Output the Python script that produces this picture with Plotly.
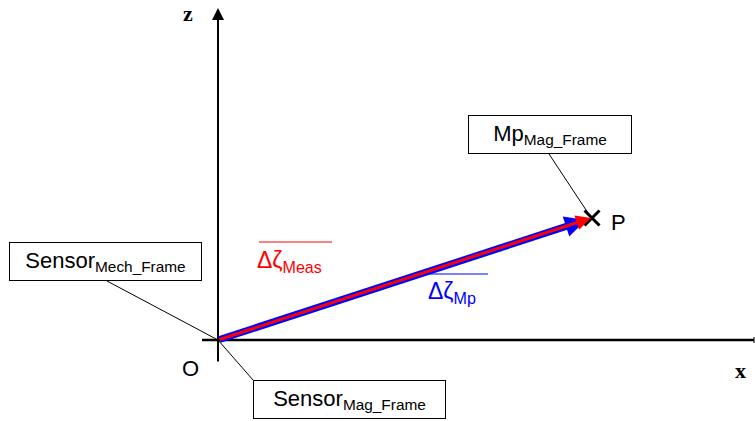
import plotly.graph_objects as go

# Diagram points (x, z) in diagram units, origin O at (0, 0)
origin = [0, 0]
point_p = [374, 122]
blue_tip = [368, 120]
red_tip = [373, 122]
x_axis_span = [-16, 536]
z_axis_span = [-23, 332]

# Text labels
axis_labels = {"z": [-30, 327], "x": [522, -30]}
point_labels = {"O": [-28, -28], "P": [400, 118]}
box_texts = ["Sensor<sub>Mech_Frame</sub>", "Sensor<sub>Mag_Frame</sub>", "Mp<sub>Mag_Frame</sub>"]
box_centers = [[-112.5, 78.5], [131.5, -59.5], [332, 205.5]]
box_sizes = [[193, 39], [193, 39], [164, 39]]
leader_starts = [[-111, 59], [35, -40], [331, 186]]
leader_ends = [[0, 0], [0, 0], [372, 124]]
vec_texts = ["Δζ<sub>Meas</sub>", "Δζ<sub>Mp</sub>"]
vec_text_pos = [[37, 79], [208, 48]]
vec_overlines = [[41, 114, 98], [209, 270, 66]]
vec_colors = ["#ff0000", "#0000ff"]

fig = go.Figure()

# leader lines
for s, e in zip(leader_starts, leader_ends):
    fig.add_trace(go.Scatter(x=[s[0], e[0]], y=[s[1], e[1]], mode="lines",
                             line=dict(color="black", width=1), hoverinfo="skip", showlegend=False))

# x axis
fig.add_trace(go.Scatter(x=x_axis_span, y=[0, 0], mode="lines",
                         line=dict(color="black", width=2.5), hoverinfo="skip", showlegend=False))
fig.add_trace(go.Scatter(x=[x_axis_span[1], x_axis_span[1]], y=[-3, 3], mode="lines",
                         line=dict(color="black", width=1), hoverinfo="skip", showlegend=False))

# P marker
fig.add_trace(go.Scatter(x=[point_p[0]], y=[point_p[1]], mode="markers",
                         marker=dict(symbol="x-thin-open", size=15, color="black",
                                     line=dict(color="black", width=3)),
                         hoverinfo="skip", showlegend=False))

annotations = []
# z axis arrow
annotations.append(dict(x=0, y=z_axis_span[1], ax=0, ay=z_axis_span[0], xref="x", yref="y",
                        axref="x", ayref="y", text="", showarrow=True, arrowhead=2,
                        arrowsize=1.2, arrowwidth=2, arrowcolor="black"))
# blue vector
annotations.append(dict(x=blue_tip[0], y=blue_tip[1], ax=origin[0], ay=origin[1], xref="x", yref="y",
                        axref="x", ayref="y", text="", showarrow=True, arrowhead=2,
                        arrowsize=0.6, arrowwidth=7, arrowcolor="#0000ff"))
# red vector
annotations.append(dict(x=red_tip[0], y=red_tip[1], ax=origin[0], ay=origin[1], xref="x", yref="y",
                        axref="x", ayref="y", text="", showarrow=True, arrowhead=2,
                        arrowsize=1.0, arrowwidth=3, arrowcolor="#ff0000"))

# boxes
for t, c, sz in zip(box_texts, box_centers, box_sizes):
    annotations.append(dict(x=c[0], y=c[1], xref="x", yref="y", text=t, showarrow=False,
                            width=sz[0] - 2, height=sz[1] - 2, borderpad=0, borderwidth=1,
                            bordercolor="black", bgcolor="white", align="center",
                            font=dict(family="Liberation Sans, Arial", size=22, color="black")))

# axis labels
for t, p in axis_labels.items():
    annotations.append(dict(x=p[0], y=p[1], xref="x", yref="y", text="<b>" + t + "</b>", showarrow=False,
                            font=dict(family="Liberation Serif", size=22, color="black")))
for t, p in point_labels.items():
    annotations.append(dict(x=p[0], y=p[1], xref="x", yref="y", text=t, showarrow=False,
                            font=dict(family="Liberation Sans, Arial", size=22, color="black")))

# vector labels
for t, p, col in zip(vec_texts, vec_text_pos, vec_colors):
    annotations.append(dict(x=p[0], y=p[1], xref="x", yref="y", text=t, showarrow=False,
                            xanchor="left", yanchor="middle",
                            font=dict(family="Liberation Sans, Arial", size=23, color=col)))

shapes = []
for ol, col in zip(vec_overlines, vec_colors):
    shapes.append(dict(type="line", xref="x", yref="y", x0=ol[0], x1=ol[1], y0=ol[2], y1=ol[2],
                       line=dict(color=col, width=1)))

fig.update_layout(
    width=755, height=421, margin=dict(l=0, r=0, t=0, b=0),
    paper_bgcolor="white", plot_bgcolor="white",
    xaxis=dict(range=[-218, 537], visible=False, fixedrange=True),
    yaxis=dict(range=[-81, 340], visible=False, fixedrange=True),
    annotations=annotations, shapes=shapes,
)

fig.write_html("out.html", config={"displayModeBar": False},
               post_script="document.body.style.margin='0';document.body.style.overflow='hidden';")
